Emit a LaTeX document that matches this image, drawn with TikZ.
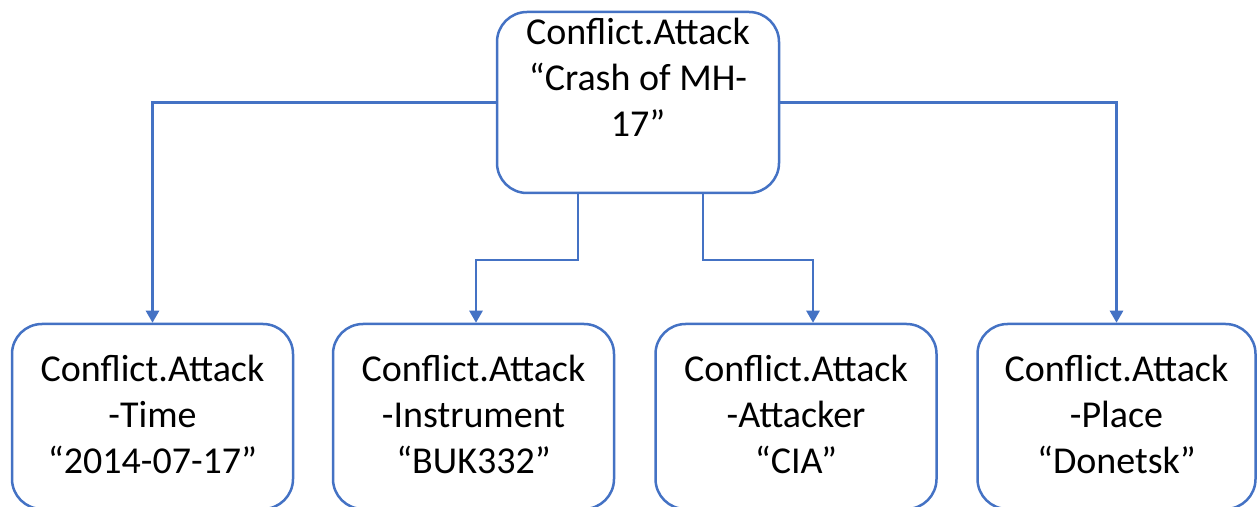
\documentclass[tikz,border=0pt]{standalone}
\usepackage{fontspec}
\setmainfont{Carlito}
\usetikzlibrary{arrows.meta,calc}
\definecolor{lineblue}{HTML}{4472C4}
\begin{document}
\begin{tikzpicture}[x=1pt,y=1pt,
  box/.style={draw=lineblue,line width=2.5pt,rounded corners=30pt,fill=white,inner sep=0pt},
  lbl/.style={anchor=base,align=center,inner sep=0pt,font=\fontsize{38}{46}\selectfont},
  conn/.style={draw=lineblue,line width=2.5pt,-{Triangle[width=13pt,length=12pt]}}]
\useasboundingbox (0,0) rectangle (1257,506);
% boxes
\node[box,minimum width=282pt,minimum height=181pt] (top) at (638,403.5) {};
\node[box,minimum width=281pt,minimum height=185pt] (b1) at (152.5,89.5) {};
\node[box,minimum width=281pt,minimum height=185pt] (b2) at (473.5,89.5) {};
\node[box,minimum width=281pt,minimum height=185pt] (b3) at (796,89.5) {};
\node[box,minimum width=278pt,minimum height=185pt] (b4) at (1116.5,89.5) {};
% texts (base anchor = last line baseline)
\node[lbl] (toptext) at (638,369) {Conflict.Attack\\“Crash of MH-\\17”};
\node[lbl] (t1) at (152.5,33) {Conflict.Attack\\-Time\\“2014-07-17”};
\node[lbl] (t2) at (473.5,33) {Conflict.Attack\\-Instrument\\“BUK332”};
\node[lbl] (t3) at (796,33) {Conflict.Attack\\-Attacker\\“CIA”};
\node[lbl] (t4) at (1116.5,33) {Conflict.Attack\\-Place\\“Donetsk”};
% connectors
\draw[conn] (top.west) -| (b1.north);
\draw[conn] (top.east) -| (b4.north);
\draw[conn] ([xshift=-60pt]top.south) -- ++(0,-66) -| ([xshift=2.5pt]b2.north);
\draw[conn] ([xshift=65pt]top.south) -- ++(0,-66) -| ([xshift=17pt]b3.north);
\end{tikzpicture}
\end{document}
